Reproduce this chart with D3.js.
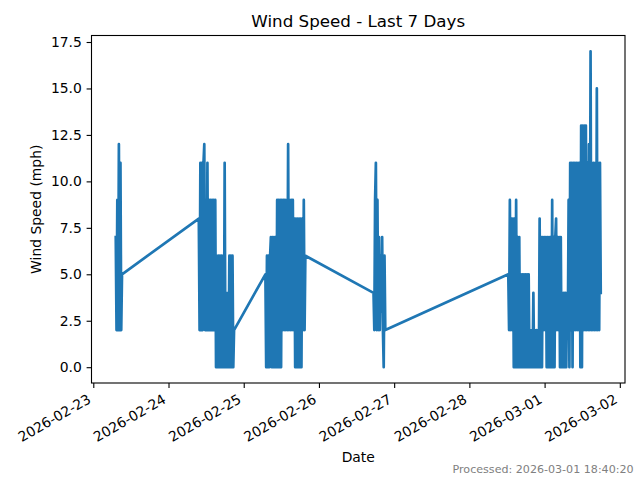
<!DOCTYPE html>
<html>
<head>
<meta charset="utf-8">
<script src="https://cdn.jsdelivr.net/npm/d3@7"></script>
<style>
  html, body { margin: 0; padding: 0; background: #fff; }
  svg { display: block; font-family: "DejaVu Sans", sans-serif; }
</style>
</head>
<body>
<svg id="chart" width="640" height="480"></svg>
<script>
// ---- Data (wind speed readings, 15-minute interval, grouped into recorded stretches) ----
const readingIntervalMinutes = 15;
const segmentStarts = [
  "2026-02-23 07:10",
  "2026-02-24 09:40",
  "2026-02-25 06:55",
  "2026-02-26 17:25",
  "2026-02-28 12:25"
];
const segment1Speeds = [7, 2, 9, 2, 12, 2, 11, 2, 5];
const segment2Speeds = [8, 2, 11, 2, 11, 2, 11, 12, 2, 9, 2, 11, 2, 9, 2, 9, 2, 9, 2, 9,
  2, 9, 0, 6, 0, 6, 0, 6, 0, 6, 0, 6, 0, 11, 0, 4, 0, 4, 0, 6, 0, 6, 0, 6, 0, 2];
const segment3Speeds = [5, 0, 6, 0, 6, 0, 6, 7, 0, 7, 0, 7, 0, 7, 0, 9, 0, 9, 0, 9,
  0, 9, 2, 9, 2, 9, 2, 9, 2, 12, 2, 9, 2, 9, 2, 9, 2, 8, 0, 8, 0, 8, 0, 8, 0, 8,
  0, 8, 2, 9, 2, 6];
const segment4Speeds = [4, 2, 9, 11, 2, 9, 2, 7, 2, 6, 3, 7, 2, 0, 6, 2];
const segment5Speeds = [5, 2, 9, 2, 8, 2, 8, 0, 8, 0, 9, 0, 7, 0, 7, 0, 5, 0, 5, 0,
  5, 0, 5, 0, 5, 0, 5, 0, 2, 0, 2, 0, 4, 0, 2, 0, 2, 0, 2, 0,
  8, 0, 7, 0, 7, 2, 7, 2, 7, 0, 7, 0, 7, 0, 7, 0, 9, 0, 7, 0,
  7, 8, 2, 7, 2, 7, 0, 7, 0, 4, 0, 4, 0, 4, 0, 4, 2, 9, 0, 11,
  2, 11, 0, 11, 2, 11, 2, 11, 2, 11, 2, 11, 0, 13, 0, 13, 2, 13, 2, 13,
  2, 11, 2, 12, 2, 17, 2, 11, 2, 11, 2, 11, 2, 15, 2, 11, 2, 11, 4];
const segmentSpeeds = [segment1Speeds, segment2Speeds, segment3Speeds, segment4Speeds, segment5Speeds];

const yTickValues = [0, 2.5, 5, 7.5, 10, 12.5, 15, 17.5];
const titleText = "Wind Speed - Last 7 Days";
const xLabelText = "Date";
const yLabelText = "Wind Speed (mph)";
const processedText = "Processed: 2026-03-01 18:40:20";

// ---- Build point list ----
const parse = d3.timeParse("%Y-%m-%d %H:%M");
const points = [];
segmentStarts.forEach((s, k) => {
  const t0 = parse(s);
  segmentSpeeds[k].forEach((v, i) => {
    points.push({ t: d3.timeMinute.offset(t0, i * readingIntervalMinutes), v: v });
  });
});

// ---- Layout ----
const svg = d3.select("#chart");
const plot = { left: 91.5, right: 625, top: 35.5, bottom: 383 };

// matplotlib-style 5% margins
const tExt = d3.extent(points, d => d.t);
const span = tExt[1] - tExt[0];
const x = d3.scaleTime()
  .domain([new Date(+tExt[0] - span * 0.05), new Date(+tExt[1] + span * 0.05)])
  .range([plot.left, plot.right]);
const vMax = d3.max(points, d => d.v), vMin = d3.min(points, d => d.v);
const vPad = (vMax - vMin) * 0.05;
const y = d3.scaleLinear()
  .domain([vMin - vPad, vMax + vPad])
  .range([plot.bottom, plot.top]);

// ---- Line ----
const line = d3.line().x(d => x(d.t)).y(d => y(d.v));
svg.append("defs").append("clipPath").attr("id", "clip")
  .append("rect").attr("x", plot.left).attr("y", plot.top)
  .attr("width", plot.right - plot.left).attr("height", plot.bottom - plot.top);
svg.append("path")
  .datum(points)
  .attr("d", line)
  .attr("fill", "none")
  .attr("stroke", "#1f77b4")
  .attr("stroke-width", 2.7)
  .attr("stroke-linejoin", "round")
  .attr("stroke-linecap", "square")
  .attr("clip-path", "url(#clip)");

// ---- Axes ----
const fmtDay = d3.timeFormat("%Y-%m-%d");
const xAxis = d3.axisBottom(x)
  .ticks(d3.timeDay.every(1))
  .tickFormat(fmtDay)
  .tickSize(4.9)
  .tickPadding(0);
const gx = svg.append("g")
  .attr("transform", `translate(0,${plot.bottom})`)
  .call(xAxis);
gx.select(".domain").remove();
gx.selectAll(".tick line").attr("stroke", "#000").attr("stroke-width", 1.1);
gx.selectAll(".tick text")
  .attr("fill", "#000")
  .style("font-size", "13.9px")
  .style("font-family", "DejaVu Sans, sans-serif")
  .attr("text-anchor", "end")
  .attr("dy", null)
  .attr("y", null)
  .attr("transform", "translate(-2,19) rotate(-30)");

const yAxis = d3.axisLeft(y)
  .tickValues(yTickValues)
  .tickFormat(d3.format(".1f"))
  .tickSize(4.9)
  .tickPadding(4.8);
const gy = svg.append("g")
  .attr("transform", `translate(${plot.left},0)`)
  .call(yAxis);
gy.select(".domain").remove();
gy.selectAll(".tick line").attr("stroke", "#000").attr("stroke-width", 1.1);
gy.selectAll(".tick text")
  .attr("fill", "#000")
  .style("font-size", "13.9px")
  .style("font-family", "DejaVu Sans, sans-serif");

// Frame (spines)
svg.append("rect")
  .attr("x", plot.left).attr("y", plot.top)
  .attr("width", plot.right - plot.left).attr("height", plot.bottom - plot.top)
  .attr("fill", "none").attr("stroke", "#000").attr("stroke-width", 1.1);

// ---- Texts ----
const cx = (plot.left + plot.right) / 2;
svg.append("text")
  .attr("x", cx).attr("y", 27)
  .attr("text-anchor", "middle")
  .style("font-size", "16.7px")
  .text(titleText);

svg.append("text")
  .attr("x", cx).attr("y", 462)
  .attr("text-anchor", "middle")
  .style("font-size", "13.9px")
  .text(xLabelText);

svg.append("text")
  .attr("transform", `translate(41,${(plot.top + plot.bottom) / 2}) rotate(-90)`)
  .attr("text-anchor", "middle")
  .style("font-size", "13.9px")
  .text(yLabelText);

svg.append("text")
  .attr("x", 633.6).attr("y", 472.5)
  .attr("text-anchor", "end")
  .attr("fill", "#808080")
  .style("font-size", "11.1px")
  .text(processedText);
</script>
</body>
</html>
